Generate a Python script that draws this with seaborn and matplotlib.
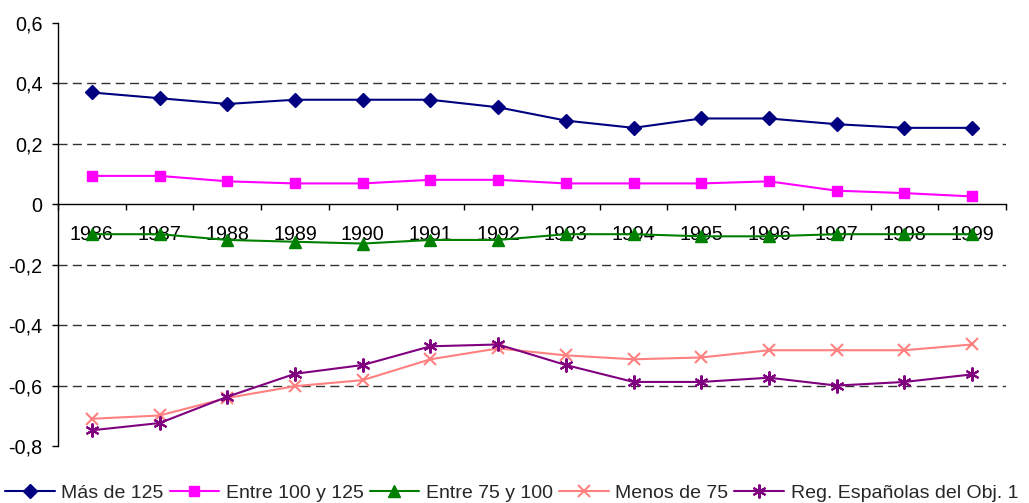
import numpy as np
import pandas as pd
import matplotlib
matplotlib.use("Agg")
import matplotlib.pyplot as plt
from matplotlib.ticker import FixedLocator, FuncFormatter
import seaborn as sns

years = ["1986", "1987", "1988", "1989", "1990", "1991", "1992",
         "1993", "1994", "1995", "1996", "1997", "1998", "1999"]

mas_de_125 = [0.370, 0.351, 0.332, 0.346, 0.346, 0.346, 0.321,
              0.277, 0.253, 0.284, 0.284, 0.265, 0.253, 0.253]
entre_100_125 = [0.094, 0.094, 0.076, 0.069, 0.069, 0.081, 0.081,
                 0.069, 0.069, 0.069, 0.076, 0.045, 0.037, 0.026]
entre_75_100 = [-0.099, -0.099, -0.118, -0.124, -0.130, -0.118, -0.118,
                -0.099, -0.099, -0.106, -0.106, -0.099, -0.099, -0.099]
menos_de_75 = [-0.710, -0.699, -0.641, -0.602, -0.582, -0.513, -0.477,
               -0.500, -0.513, -0.507, -0.483, -0.483, -0.483, -0.464]
reg_obj1 = [-0.748, -0.724, -0.637, -0.561, -0.532, -0.470, -0.464,
            -0.532, -0.588, -0.588, -0.574, -0.600, -0.588, -0.563]

series_names = ["Más de 125", "Entre 100 y 125", "Entre 75 y 100",
                "Menos de 75", "Reg. Españolas del Obj. 1"]
series_values = [mas_de_125, entre_100_125, entre_75_100, menos_de_75, reg_obj1]
y_ticks = [-0.8, -0.6, -0.4, -0.2, 0.0, 0.2, 0.4, 0.6]

colors = ["#000080", "#FF00FF", "#008000", "#FF8080", "#800080"]
markers = ["D", "s", "^", "x", (6, 2, 0)]
msizes = [7, 7.5, 8, 9, 10]
mews = [1, 1, 1, 1.5, 1.5]

sns.set_theme(style="white")
plt.rcParams["font.family"] = ["Liberation Sans", "DejaVu Sans"]
FS = 14.2

fig = plt.figure(figsize=(10.29, 5.03), dpi=100)
ax = fig.add_axes([58 / 1029, 1 - 446 / 503, (1006 - 58) / 1029, (446 - 23) / 503])

pos = np.arange(len(years))
handles = []
for name, vals, c, m, ms, mew in zip(series_names, series_values, colors, markers, msizes, mews):
    df = pd.DataFrame({"x": pos, "y": vals})
    sns.lineplot(data=df, x="x", y="y", ax=ax, color=c, marker=m, markersize=ms,
                 markeredgewidth=mew, markeredgecolor=c, linewidth=1.5, label=name,
                 legend=False, zorder=3)
    handles.append(ax.lines[-1])

ax.set_xlim(-0.5, len(years) - 0.5)
ax.set_ylim(-0.8, 0.6)

# gridlines
for yt in y_ticks:
    if yt in (0.0, 0.6):
        continue
    if yt == -0.8:
        ax.axhline(yt, color="#e6e6e6", lw=0.8, zorder=1)
    else:
        ax.axhline(yt, color="#333333", lw=1.0, linestyle=(0, (6.5, 3.8)), zorder=1)

ax.set_xlabel("")
ax.set_ylabel("")

# spines
for s in ["top", "right"]:
    ax.spines[s].set_visible(False)
ax.spines["left"].set_color("black")
ax.spines["left"].set_linewidth(1.0)
ax.spines["bottom"].set_position(("data", 0))
ax.spines["bottom"].set_color("black")
ax.spines["bottom"].set_linewidth(1.0)

ax.xaxis.set_major_locator(FixedLocator(pos))
ax.set_xticklabels(years)
ax.xaxis.set_minor_locator(FixedLocator(np.arange(len(years) + 1) - 0.5))
ax.tick_params(axis="x", which="major", length=0, pad=15, labelsize=FS, colors="black")
ax.tick_params(axis="x", which="minor", length=4.5, width=1, direction="out",
               color="black", bottom=True)

ax.yaxis.set_major_locator(FixedLocator(y_ticks))
ax.yaxis.set_major_formatter(FuncFormatter(
    lambda v, p: ("%g" % round(v, 1)).replace(".", ",") if abs(v) > 1e-9 else "0"))
ax.tick_params(axis="y", which="major", length=4.5, width=1, direction="out",
               pad=6.5, labelsize=FS, colors="black", left=True)

ax.grid(False)
ax.set_facecolor("white")

fig.legend(handles, series_names, loc="center left",
           bbox_to_anchor=(5 / 1029, 1 - 493 / 503), ncol=5, frameon=False,
           fontsize=14, handlelength=2.55, handletextpad=0.35, columnspacing=0.3,
           borderpad=0, borderaxespad=0, numpoints=1)

fig.savefig("out.png", dpi=100, facecolor="white")
